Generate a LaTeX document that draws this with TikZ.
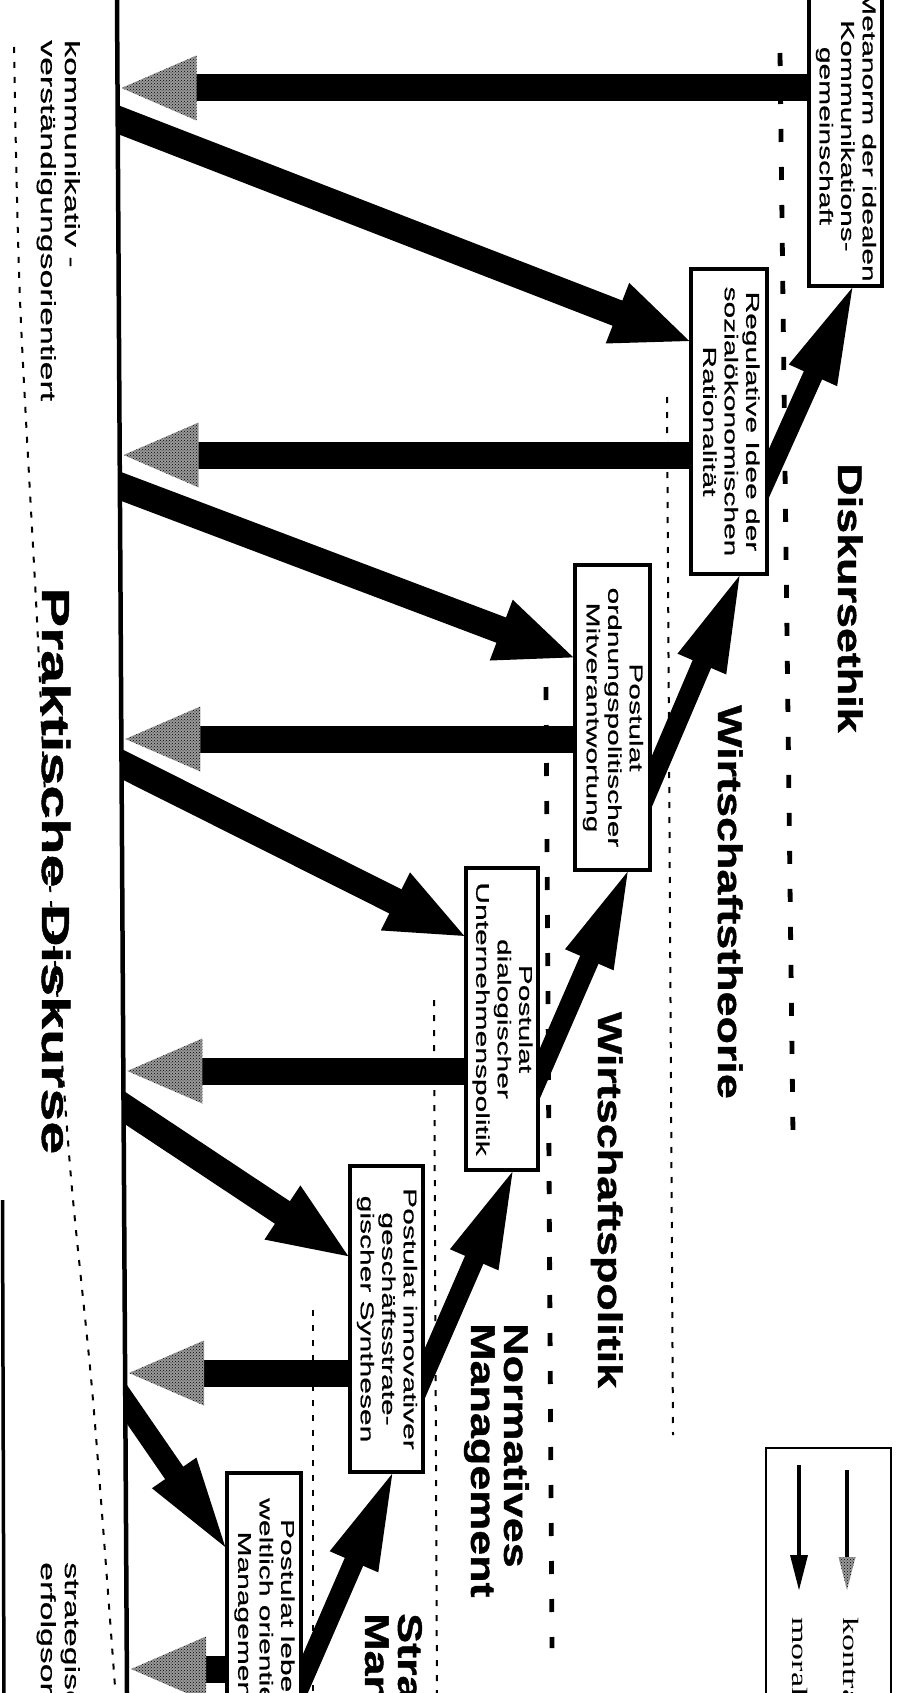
\documentclass[tikz,border=0pt]{standalone}
\usepackage{fontspec}
\usepackage{graphicx}
\usetikzlibrary{calc,patterns}
\newfontfamily\boxfont[FakeStretch=1.62,FakeBold=0.6]{Liberation Sans}
\newfontfamily\sidefont[FakeStretch=1.65,FakeBold=0.5]{Liberation Sans}
\newfontfamily\headfont[FakeStretch=1.32,FakeBold=1.2]{Liberation Sans}
\newfontfamily\bigfont[FakeStretch=1.52,FakeBold=1.2]{Liberation Sans}
\newfontfamily\legendfont[FakeStretch=1.55]{Liberation Serif}
\pgfdeclarelayer{bg}
\pgfsetlayers{bg,main}
% text set sideways inside a box
\newcommand\vtext[1]{\rotatebox{-90}{\begin{tabular}{@{}c@{}}#1\end{tabular}}}
% thick arrow: shaft width, head length, half head width, head style, tail, tip
\newcommand\fatarrow[6]{%
  \coordinate (fa-b) at ($(#6)!#2!(#5)$);
  \draw[line width=#1] ($(#5)!-25pt!(#6)$) -- ($(fa-b)!-2pt!(#5)$);
  \fill[#4] (#6) -- ($(fa-b)!#3!90:(#6)$) -- ($(fa-b)!#3!-90:(#6)$) -- cycle;
}
\begin{document}
\begin{tikzpicture}[x=1pt,y=-1pt,
  postbox/.style={draw, line width=3.5pt, fill=white, inner sep=0pt,
    font=\boxfont\fontsize{18.5pt}{21.5pt}\selectfont},
  hatchhead/.style={fill=black!40, postaction={pattern=crosshatch dots, pattern color=black}},
  blackhead/.style={fill=black},
  thickdash/.style={line width=4.8pt, dash pattern=on 13pt off 25pt},
  thindash/.style={line width=2pt, dash pattern=on 6pt off 9pt},
  headtxt/.style={rotate=-90, inner sep=0pt, font=\headfont\bfseries\fontsize{34pt}{33pt}\selectfont},
  headtwo/.style={headtxt, align=left},
  bigtxt/.style={rotate=-90, inner sep=0pt, font=\bigfont\bfseries\fontsize{39pt}{40pt}\selectfont},
  sidetxt/.style={rotate=-90, inner sep=0pt, align=left, font=\sidefont\fontsize{20.5pt}{24pt}\selectfont},
  legendtxt/.style={rotate=-90, inner sep=0pt, font=\legendfont\fontsize{22pt}{24pt}\selectfont},
]
\useasboundingbox (0,0) rectangle (897,1693);

% ---- the six stages -------------------------------------------------
\node[postbox, minimum width=73pt, minimum height=300pt] (M) at (845.5,136)
  {\vtext{Metanorm der idealen\\Kommunikations-\\gemeinschaft}};
\node[postbox, minimum width=76pt, minimum height=305pt] (R) at (729,421.5)
  {\vtext{Regulative Idee der\\sozialökonomischen\\Rationalität}};
\node[postbox, minimum width=75pt, minimum height=305pt] (O) at (612.5,717.5)
  {\vtext{Postulat\\ordnungspolitischer\\Mitverantwortung}};
\node[postbox, minimum width=72pt, minimum height=302pt] (D) at (502,1019)
  {\vtext{Postulat\\dialogischer\\Unternehmenspolitik}};
\node[postbox, minimum width=73pt, minimum height=306pt] (I) at (386.5,1319)
  {\vtext{Postulat innovativer\\geschäftsstrate-\\gischer Synthesen}};
\node[postbox, minimum width=74pt, minimum height=307pt] (L) at (264,1626.5)
  {\vtext{Postulat lebens-\\weltlich orientierten\\Managements}};

% ---- the axis of practical discourse ---------------------------------
\coordinate (top) at (117,0);
\coordinate (bot) at (127,1693);
\coordinate (h1) at (121.5,88);
\coordinate (h2) at (123.7,455);
\coordinate (h3) at (125.4,739);
\coordinate (h4) at (127.3,1071);
\coordinate (h5) at (129,1373);
\coordinate (h6) at (131,1669);
\coordinate (s1) at (117.7,119.5);
\coordinate (s2) at (119.9,486);
\coordinate (s3) at (121.5,764);
\coordinate (s4) at (123.5,1107);
\coordinate (s5) at (125.3,1402);

% tails and tips on the boxes
\coordinate (m1) at (M.west |- h1);
\coordinate (m2) at (R.west |- h2);
\coordinate (m3) at (O.west |- h3);
\coordinate (m4) at (D.west |- h4);
\coordinate (m5) at (I.west |- h5);
\coordinate (m6) at (L.west |- h6);
\coordinate (d1) at ($(R.north west)!0.239!(R.south west)$);
\coordinate (d2) at ($(O.north west)!0.305!(O.south west)$);
\coordinate (d3) at ($(D.north west)!0.228!(D.south west)$);
\coordinate (d4) at ($(I.north west)!0.297!(I.south west)$);
\coordinate (d5) at ($(L.north west)!0.244!(L.south west)$);
\coordinate (uR) at ($(R.north east)!0.669!(R.south east)$);
\coordinate (uO) at ($(O.north east)!0.708!(O.south east)$);
\coordinate (uD) at ($(D.north east)!0.679!(D.south east)$);
\coordinate (uI) at ($(I.north east)!0.676!(I.south east)$);
\coordinate (uL) at ($(L.north east)!0.671!(L.south east)$);
\coordinate (tM) at ($(M.south west)!0.589!(M.south east)$);
\coordinate (tR) at ($(R.south west)!0.632!(R.south east)$);
\coordinate (tO) at ($(O.south west)!0.693!(O.south east)$);
\coordinate (tD) at ($(D.south west)!0.639!(D.south east)$);
\coordinate (tI) at ($(I.south west)!0.575!(I.south east)$);

\begin{pgfonlayer}{bg}
  % level separators
  \draw[thickdash] (780,53) -- (793,1135);
  \draw[thindash] (667,397) -- (673,1435);
  \draw[thickdash] (546,687) -- (552,1648);
  \draw[thindash] (434,1000) -- (437,1700);
  \draw[thindash] (313,1310) -- (313,1700);
  \draw[thindash] plot[smooth] coordinates {(14,47) (20,300) (37,620) (49,870) (70,1166) (93,1400) (116,1700)};
  \draw[line width=3.5pt] (2.5,1200) -- (4,1700);

  % counter-arrows back to the practical discourse
  \fatarrow{27pt}{75pt}{32.5pt}{hatchhead}{m1}{h1}
  \fatarrow{27pt}{75pt}{32.5pt}{hatchhead}{m2}{h2}
  \fatarrow{27pt}{75pt}{32.5pt}{hatchhead}{m3}{h3}
  \fatarrow{27pt}{75pt}{32.5pt}{hatchhead}{m4}{h4}
  \fatarrow{27pt}{75pt}{32.5pt}{hatchhead}{m5}{h5}
  \fatarrow{27pt}{75pt}{32.5pt}{hatchhead}{m6}{h6}

  % arrows from the practical discourse to each stage
  \begin{scope}
    \clip (top) -- (bot) -- (900,1693) -- (900,0) -- cycle;
    \fatarrow{27pt}{77pt}{32.5pt}{blackhead}{s1}{d1}
    \fatarrow{27pt}{77pt}{32.5pt}{blackhead}{s2}{d2}
    \fatarrow{27pt}{77pt}{32.5pt}{blackhead}{s3}{d3}
    \fatarrow{27pt}{79pt}{32.5pt}{blackhead}{s4}{d4}
    \fatarrow{22pt}{90pt}{27pt}{blackhead}{s5}{d5}
  \end{scope}

  % ascending arrows between the stages
  \fatarrow{20pt}{96pt}{26.5pt}{blackhead}{uR}{tM}
  \fatarrow{20pt}{96pt}{26.5pt}{blackhead}{uO}{tR}
  \fatarrow{20pt}{96pt}{26.5pt}{blackhead}{uD}{tO}
  \fatarrow{20pt}{96pt}{26.5pt}{blackhead}{uI}{tD}
  \fatarrow{20pt}{96pt}{26.5pt}{blackhead}{uL}{tI}
\end{pgfonlayer}

\draw[line width=4.5pt] (top) -- (bot);

% ---- level titles ----------------------------------------------------
\node[headtxt, anchor=base] (ethik) at (838,598) {Diskursethik};
\node[headtxt, anchor=base] (theorie) at (718,902) {Wirtschaftstheorie};
\node[headtxt, anchor=base] (politik) at (598,1200) {Wirtschaftspolitik};
\node[headtwo, anchor=north west] (normativ) at (529,1323) {Normatives\\Management};
\node[headtwo, anchor=north west] (strateg) at (423,1613) {Strategisches\\Management};
\node[bigtxt, anchor=base] (prakt) at (42,871) {Praktische Diskurse};
\node[sidetxt, anchor=north west] (komm) at (80,40) {kommunikativ -\\verständigungsorientiert};
\node[sidetxt, anchor=north west] (erfolg) at (80,1562) {strategisch -\\erfolgsorientiert};

% ---- legend ------------------------------------------------------------
\node[draw, line width=2.5pt, minimum width=125pt, minimum height=312pt, inner sep=0pt] (legend) at (828.5,1604) {};
\coordinate (lk1) at (847,1495);
\coordinate (lk2) at (847,1590);
\coordinate (lm1) at (799,1490);
\coordinate (lm2) at (799,1590);
\fatarrow{3.5pt}{33pt}{8.5pt}{hatchhead}{lk1}{lk2}
\fatarrow{3.5pt}{35pt}{9pt}{blackhead}{lm1}{lm2}
\node[legendtxt, anchor=base west] (kontra) at (843,1617) {kontra};
\node[legendtxt, anchor=base west] (moral) at (792,1617) {moral};
\end{tikzpicture}
\end{document}
